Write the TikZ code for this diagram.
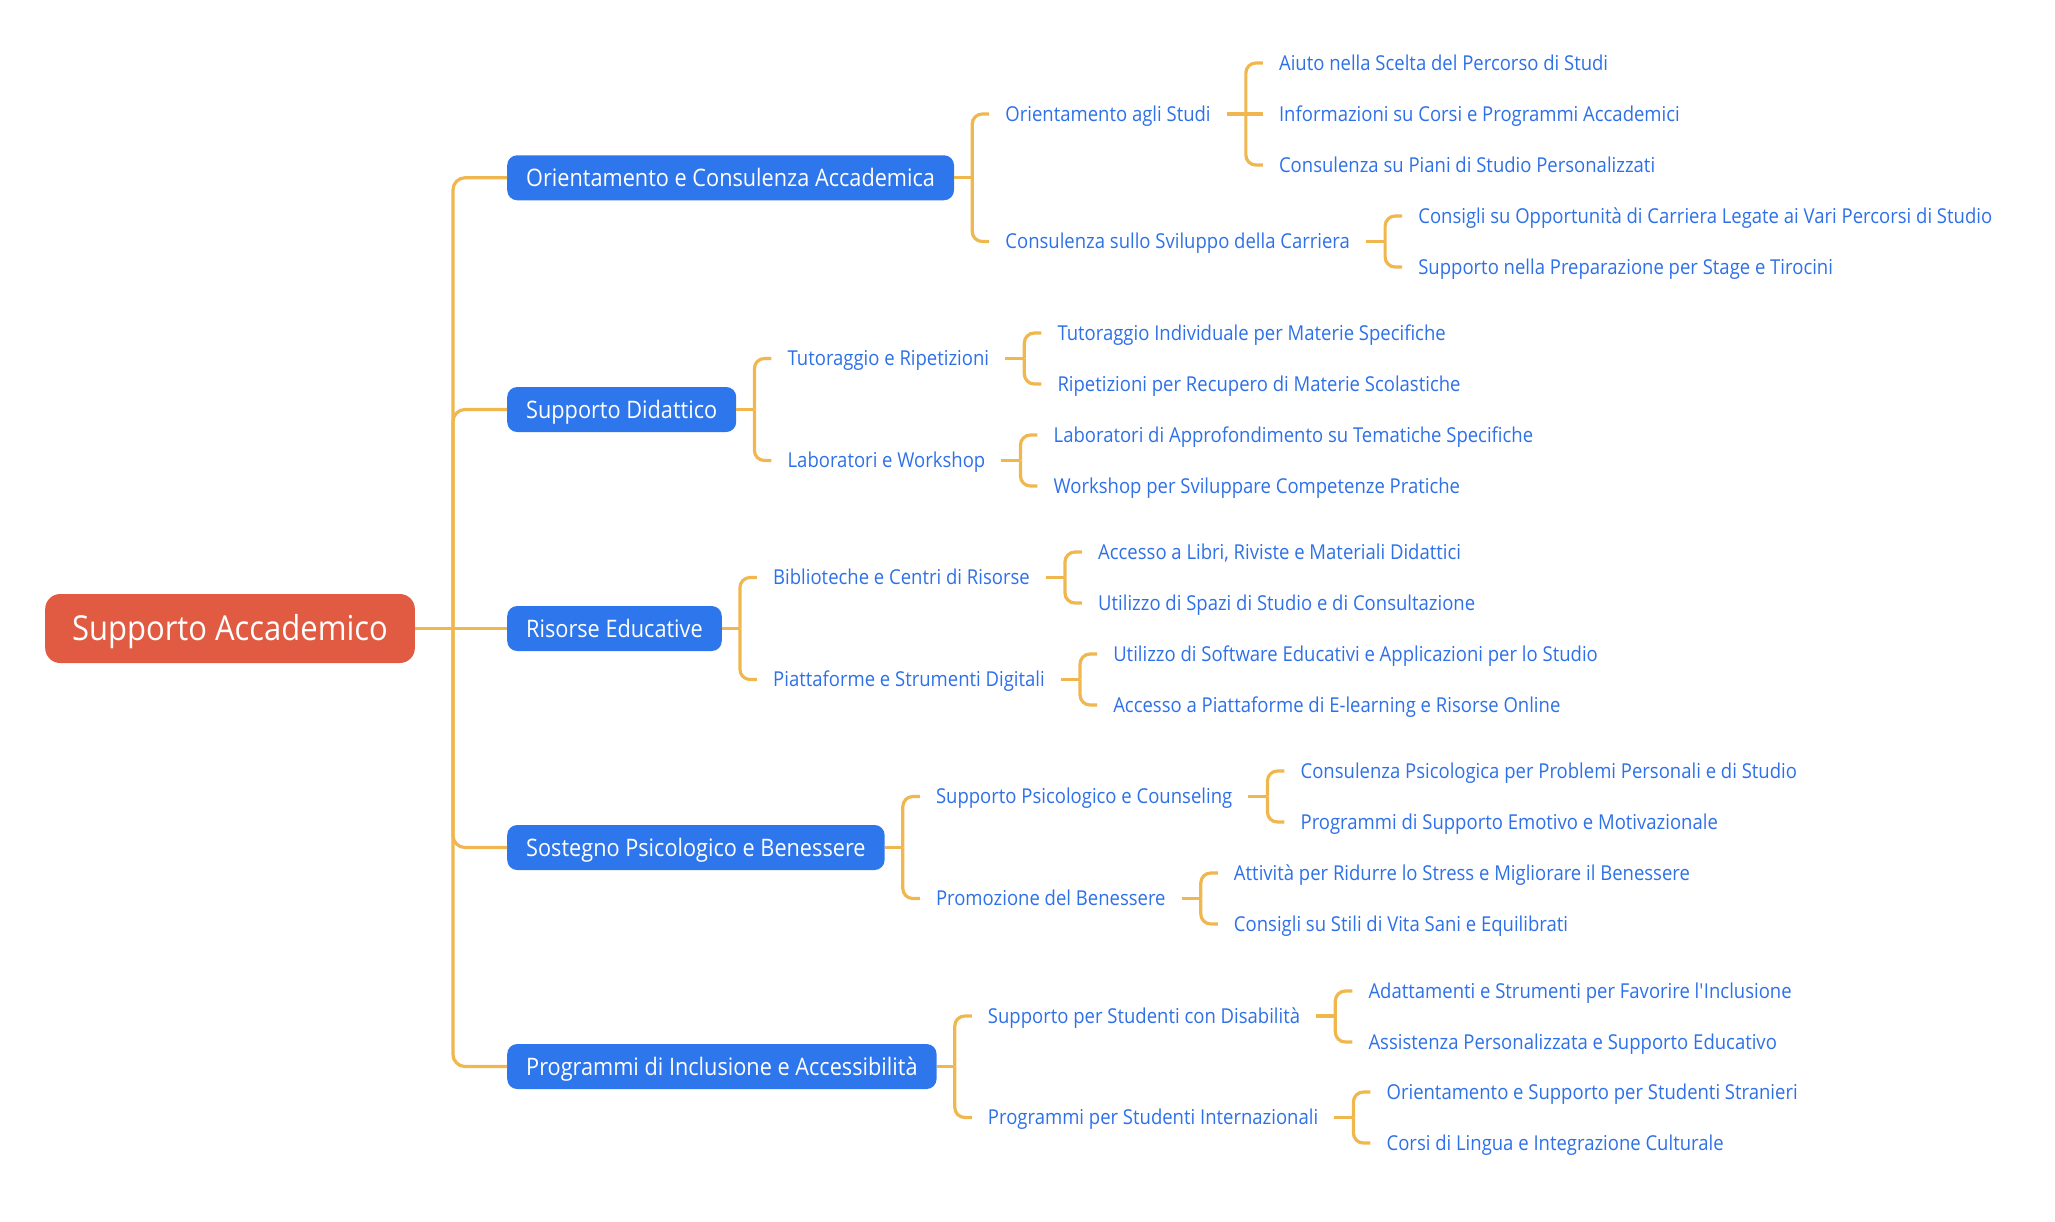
\documentclass[tikz,border=0pt]{standalone}
\usepackage{fontspec}
\setmainfont[FakeStretch=0.9]{Open Sans}
\usetikzlibrary{calc}
\definecolor{rootred}{RGB}{225,91,66}
\definecolor{boxblue}{RGB}{46,118,235}
\definecolor{txtblue}{RGB}{45,112,232}
\definecolor{linec}{RGB}{240,183,78}
\begin{document}
\begin{tikzpicture}[x=1pt,y=-1pt,
  rootbox/.style={fill=rootred, text=white, rounded corners=15pt, minimum height=69pt,
    inner xsep=27pt, inner ysep=0pt, font=\fontsize{34.4}{40}\selectfont,
    text height=24.6pt, text depth=0pt, anchor=west},
  lonebox/.style={fill=boxblue, text=white, rounded corners=10pt, minimum height=45pt,
    inner xsep=19pt, inner ysep=0pt, font=\fontsize{24.1}{29}\selectfont,
    text height=17.2pt, text depth=0pt, anchor=west},
  leaf/.style={text=txtblue, inner xsep=16pt, inner ysep=0pt,
    font=\fontsize{20.55}{25}\selectfont, text height=14.7pt, text depth=0pt, anchor=west},
  conn/.style={draw=linec, line width=3.2pt},
  brk/.style={conn, rounded corners=10pt},
  tbrk/.style={conn, rounded corners=12pt}]
\useasboundingbox (0,0) rectangle (2055,1221);

% root and level 1
\node[rootbox] (root) at (45,628.5) {Supporto Accademico};
\coordinate (t0) at (453,628.5);
\node[lonebox] (oca) at (507,177.75) {Orientamento e Consulenza Accademica};
\node[lonebox] (sd)  at (507,409.5) {Supporto Didattico};
\node[lonebox] (re)  at (507,628.5) {Risorse Educative};
\node[lonebox] (spb) at (507,847.5) {Sostegno Psicologico e Benessere};
\node[lonebox] (pia) at (507,1066.5) {Programmi di Inclusione e Accessibilità};

\draw[conn] (root.east) -- (re.west);
\draw[tbrk] (t0) |- (oca.west);
\draw[tbrk] (t0) |- (sd.west);
\draw[tbrk] (t0) |- (spb.west);
\draw[tbrk] (t0) |- (pia.west);

% level 2 bracket points
\coordinate (bOCA) at ($(oca.east)+(18,0)$); \coordinate (kOCA) at ($(oca.east)+(35,0)$);
\coordinate (bSD)  at ($(sd.east)+(18,0)$);  \coordinate (kSD)  at ($(sd.east)+(35,0)$);
\coordinate (bRE)  at ($(re.east)+(18,0)$);  \coordinate (kRE)  at ($(re.east)+(35,0)$);
\coordinate (bSPB) at ($(spb.east)+(18,0)$); \coordinate (kSPB) at ($(spb.east)+(35,0)$);
\coordinate (bPIA) at ($(pia.east)+(18,0)$); \coordinate (kPIA) at ($(pia.east)+(35,0)$);

\node[leaf] (oas)  at (kOCA |- 0,114)   {Orientamento agli Studi};
\node[leaf] (cssc) at (kOCA |- 0,241.5) {Consulenza sullo Sviluppo della Carriera};
\node[leaf] (tr)   at (kSD |- 0,358.5)  {Tutoraggio e Ripetizioni};
\node[leaf] (lw)   at (kSD |- 0,460.5)  {Laboratori e Workshop};
\node[leaf] (bcr)  at (kRE |- 0,577.5)  {Biblioteche e Centri di Risorse};
\node[leaf] (psd)  at (kRE |- 0,679.5)  {Piattaforme e Strumenti Digitali};
\node[leaf] (spc)  at (kSPB |- 0,796.5) {Supporto Psicologico e Counseling};
\node[leaf] (pb)   at (kSPB |- 0,898.5) {Promozione del Benessere};
\node[leaf] (ssd)  at (kPIA |- 0,1016)  {Supporto per Studenti con Disabilità};
\node[leaf] (psi)  at (kPIA |- 0,1117.5) {Programmi per Studenti Internazionali};

\draw[conn] (oca.east) -- (bOCA);
\draw[conn] (sd.east) -- (bSD);
\draw[conn] (re.east) -- (bRE);
\draw[conn] (spb.east) -- (bSPB);
\draw[conn] (pia.east) -- (bPIA);
\draw[brk] (bOCA) |- (oas.west);  \draw[brk] (bOCA) |- (cssc.west);
\draw[brk] (bSD) |- (tr.west);    \draw[brk] (bSD) |- (lw.west);
\draw[brk] (bRE) |- (bcr.west);   \draw[brk] (bRE) |- (psd.west);
\draw[brk] (bSPB) |- (spc.west);  \draw[brk] (bSPB) |- (pb.west);
\draw[brk] (bPIA) |- (ssd.west);  \draw[brk] (bPIA) |- (psi.west);

% level 3 bracket points
\foreach \n in {oas,cssc,tr,lw,bcr,psd,spc,pb,ssd,psi}{
  \coordinate (b\n) at ($(\n.east)+(19,0)$);
  \coordinate (k\n) at ($(\n.east)+(36,0)$);
  \draw[conn] (\n.east) -- (b\n);
}

\node[leaf] (a1) at (koas |- 0,63)  {Aiuto nella Scelta del Percorso di Studi};
\node[leaf] (a2) at (koas |- 0,114) {Informazioni su Corsi e Programmi Accademici};
\node[leaf] (a3) at (koas |- 0,165) {Consulenza su Piani di Studio Personalizzati};
\node[leaf] (b1) at (kcssc |- 0,216) {Consigli su Opportunità di Carriera Legate ai Vari Percorsi di Studio};
\node[leaf] (b2) at (kcssc |- 0,267) {Supporto nella Preparazione per Stage e Tirocini};
\node[leaf] (c1) at (ktr |- 0,333) {Tutoraggio Individuale per Materie Specifiche};
\node[leaf] (c2) at (ktr |- 0,384) {Ripetizioni per Recupero di Materie Scolastiche};
\node[leaf] (d1) at (klw |- 0,435) {Laboratori di Approfondimento su Tematiche Specifiche};
\node[leaf] (d2) at (klw |- 0,486) {Workshop per Sviluppare Competenze Pratiche};
\node[leaf] (e1) at (kbcr |- 0,552) {Accesso a Libri, Riviste e Materiali Didattici};
\node[leaf] (e2) at (kbcr |- 0,603) {Utilizzo di Spazi di Studio e di Consultazione};
\node[leaf] (f1) at (kpsd |- 0,654) {Utilizzo di Software Educativi e Applicazioni per lo Studio};
\node[leaf] (f2) at (kpsd |- 0,705) {Accesso a Piattaforme di E-learning e Risorse Online};
\node[leaf] (g1) at (kspc |- 0,771) {Consulenza Psicologica per Problemi Personali e di Studio};
\node[leaf] (g2) at (kspc |- 0,822) {Programmi di Supporto Emotivo e Motivazionale};
\node[leaf] (h1) at (kpb |- 0,873) {Attività per Ridurre lo Stress e Migliorare il Benessere};
\node[leaf] (h2) at (kpb |- 0,924) {Consigli su Stili di Vita Sani e Equilibrati};
\node[leaf] (i1) at (kssd |- 0,991) {Adattamenti e Strumenti per Favorire l\textquotesingle Inclusione};
\node[leaf] (i2) at (kssd |- 0,1042) {Assistenza Personalizzata e Supporto Educativo};
\node[leaf] (j1) at (kpsi |- 0,1092) {Orientamento e Supporto per Studenti Stranieri};
\node[leaf] (j2) at (kpsi |- 0,1143) {Corsi di Lingua e Integrazione Culturale};

\draw[brk] (boas) |- (a1.west); \draw[conn] (boas) -- (a2.west); \draw[brk] (boas) |- (a3.west);
\draw[brk] (bcssc) |- (b1.west); \draw[brk] (bcssc) |- (b2.west);
\draw[brk] (btr) |- (c1.west); \draw[brk] (btr) |- (c2.west);
\draw[brk] (blw) |- (d1.west); \draw[brk] (blw) |- (d2.west);
\draw[brk] (bbcr) |- (e1.west); \draw[brk] (bbcr) |- (e2.west);
\draw[brk] (bpsd) |- (f1.west); \draw[brk] (bpsd) |- (f2.west);
\draw[brk] (bspc) |- (g1.west); \draw[brk] (bspc) |- (g2.west);
\draw[brk] (bpb) |- (h1.west); \draw[brk] (bpb) |- (h2.west);
\draw[brk] (bssd) |- (i1.west); \draw[brk] (bssd) |- (i2.west);
\draw[brk] (bpsi) |- (j1.west); \draw[brk] (bpsi) |- (j2.west);
\end{tikzpicture}
\end{document}
